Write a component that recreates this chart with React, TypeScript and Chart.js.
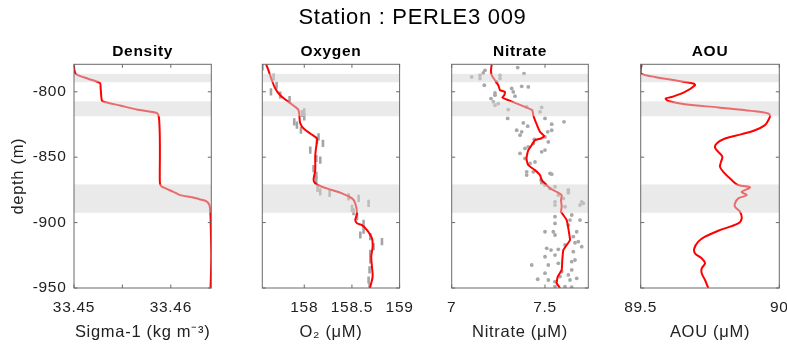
import React, { useEffect, useRef } from "react";
import { Chart, registerables } from "chart.js";

Chart.register(...registerables);

const FONT_FAMILY = "'Liberation Sans', Arial, Helvetica, sans-serif";
const TEXT_COLOR = "#222222";
const WIDTH = 787;
const HEIGHT = 349;

const heading = "Station : PERLE3 009";

// depth axis (m, negative downward)
const depthTicks = [-800, -850, -900, -950];
const depthMin = -950;
const depthMax = -779;

// shaded layers
const bandTop = [-786.3, -807.4, -870.8];
const bandBottom = [-792.7, -818.7, -892.5];

// ---- Density (sigma-1) profile ----
const densityDepth = [
  -779, -783, -786.6, -790, -793.3, -797, -802, -807, -808.2, -810.5, -813.6, -816.2, -818, -822,
  -830, -840, -850, -860, -868, -870.8, -872.6, -876.5, -879, -880.7, -882.3, -883.6, -886.6,
  -890.4, -895, -905, -915, -925, -935, -945, -950,
];
const densityValue = [
  33.45, 33.45003, 33.45021, 33.45145, 33.45269, 33.45275, 33.4528, 33.4529, 33.45338, 33.45476,
  33.45648, 33.45855, 33.45872, 33.4588, 33.45885, 33.45887, 33.45887, 33.45886, 33.45886, 33.4589,
  33.45907, 33.46027, 33.46096, 33.46217, 33.46303, 33.46365, 33.46399, 33.46406, 33.4641,
  33.46413, 33.46416, 33.46418, 33.46416, 33.46412, 33.4641,
];
const densityTicks = [33.45, 33.455, 33.46];
const densityTickLabels = ["33.45", "", "33.46"];

// ---- Oxygen profile ----
const oxygenDepth = [
  -779, -783.6, -789.9, -797.5, -802.6, -807.7, -811.6, -814.1, -820.4, -824.2, -828.1, -831.9,
  -835.7, -838.3, -843.3, -849.7, -859.9, -867.5, -870.0, -872.6, -875.1, -877.7, -881.5, -885.3,
  -892.9, -898.1, -900.5, -901.9, -905.7, -912.0, -918.4, -926.1, -933.7, -941.3, -948.9, -950,
];
const oxygenValue = [
  157.6, 157.625, 157.654, 157.696, 157.748, 157.835, 157.906, 157.94, 157.951, 157.958, 157.993,
  158.063, 158.133, 158.133, 158.123, 158.115, 158.115, 158.098, 158.115, 158.186, 158.291,
  158.396, 158.501, 158.535, 158.553, 158.535, 158.553, 158.605, 158.658, 158.71, 158.717,
  158.703, 158.71, 158.717, 158.693, 158.69,
];
const oxygenSampleDepth = [
  -781.0, -788.7, -795.0, -800.1, -802.6, -805.9, -815.4, -816.6, -819.2, -823.0, -825.5, -829.4,
  -834.5, -837.0, -839.5, -844.6, -851.0, -852.3, -858.7, -863.7, -867.5, -873.9, -876.5, -877.7,
  -880.3, -881.5, -885.3, -889.1, -891.7, -895.5, -900.6, -905.7, -909.5, -910.8, -914.6, -918.4,
  -923.5, -928.6, -936.2, -943.9, -948.9,
];
const oxygenSampleValue = [
  157.562, 157.678, 157.71, 157.651, 157.748, 157.846, 158.0, 157.976, 158.0, 157.895, 157.923,
  157.965, 158.15, 158.133, 158.196, 158.063, 158.126, 158.168, 158.098, 158.126, 158.126,
  158.14, 158.168, 158.266, 158.465, 158.57, 158.675, 158.501, 158.517, 158.553, 158.622,
  158.622, 158.588, 158.693, 158.815, 158.727, 158.693, 158.693, 158.685, 158.675, 158.685,
];
const oxygenTicks = [158, 158.5, 159];
const oxygenTickLabels = ["158", "158.5", "159"];

// ---- Nitrate profile ----
const nitrateDepth = [
  -779, -783.6, -787.4, -791.2, -795.0, -798.8, -800.1, -802.6, -804.4, -805.9, -808.5, -811.6,
  -814.1, -817.9, -821.7, -826.8, -830.6, -833.9, -835.7, -837.0, -840.8, -844.6, -849.7, -852.3,
  -856.1, -859.9, -863.7, -867.5, -871.4, -873.9, -876.5, -879.0, -882.8, -887.9, -891.7, -894.2,
  -898.1, -904.4, -913.3, -917.1, -921.0, -928.6, -936.2, -941.3, -946.4, -950,
];
const nitrateValue = [
  7.2144, 7.2106, 7.2144, 7.232, 7.2497, 7.2588, 7.2856, 7.2819, 7.2712, 7.2947, 7.3392, 7.3928,
  7.4319, 7.4373, 7.4464, 7.4609, 7.4732, 7.4962, 7.4786, 7.4464, 7.4287, 7.4105, 7.4019, 7.4019,
  7.4105, 7.4464, 7.4732, 7.4823, 7.5091, 7.5268, 7.5627, 7.5895, 7.5857, 7.5895, 7.5857, 7.5981,
  7.6163, 7.6249, 7.634, 7.6163, 7.5981, 7.5927, 7.5895, 7.5681, 7.5627, 7.5804,
];
const nitrateSampleDepth = [
  -781.5, -783.6, -785.6, -786.1, -787.4, -787.4, -788.7, -789.9, -789.9, -792.5, -795.0, -795.8,
  -796.3, -797.5, -800.1, -800.9, -802.6, -803.4, -805.2, -807.7, -809.0, -810.3, -811.6, -812.0,
  -813.6, -815.4, -820.4, -820.4, -823.0, -823.8, -824.8, -826.3, -829.4, -829.4, -830.6, -830.6,
  -833.2, -834.5, -836.5, -838.3, -839.5, -842.1, -843.3, -844.6, -845.9, -847.1, -851.0, -853.6,
  -854.8, -861.2, -861.2, -862.4, -863.0, -863.7, -867.5, -869.6, -871.4, -872.6, -873.9, -875.1,
  -877.2, -879.0, -881.5, -884.1, -884.1, -885.3, -886.6, -886.6, -887.9, -894.2, -895.5, -898.1,
  -898.1, -900.6, -901.9, -907.0, -907.0, -907.0, -909.5, -910.8, -914.6, -915.4, -917.1, -918.4,
  -919.7, -920.4, -921.0, -922.2, -924.8, -926.1, -928.6, -929.9, -931.1, -932.4, -932.4, -936.2,
  -937.5, -938.7, -940.0, -941.3, -942.6, -943.3, -943.9, -943.9, -945.2, -948.9, -948.9, -949.4,
];
const nitrateSampleValue = [
  7.3537, 7.1785, 7.1693, 7.3875, 7.1517, 7.2588, 7.1072, 7.1517, 7.2588, 7.2412, 7.1747, 7.3751,
  7.4105, 7.3215, 7.3301, 7.232, 7.232, 7.3392, 7.2106, 7.2229, 7.2497, 7.232, 7.4019, 7.4823,
  7.3033, 7.4732, 7.5, 7.3001, 7.6018, 7.3837, 7.5359, 7.4073, 7.3483, 7.5359, 7.3751, 7.5145,
  7.366, 7.5, 7.4427, 7.5177, 7.4373, 7.4105, 7.3928, 7.5, 7.4823, 7.366, 7.3928, 7.4464,
  7.4196, 7.4019, 7.4373, 7.5268, 7.5359, 7.4019, 7.4786, 7.4823, 7.5, 7.5536, 7.5268, 7.6249,
  7.6249, 7.5713, 7.5981, 7.5536, 7.6967, 7.7053, 7.5536, 7.6876, 7.6072, 7.6431, 7.5536, 7.634,
  7.6876, 7.5536, 7.6249, 7.5, 7.5445, 7.6699, 7.5536, 7.6517, 7.6785, 7.6608, 7.6072, 7.6967,
  7.5091, 7.5713, 7.5322, 7.6517, 7.5536, 7.5, 7.6608, 7.6431, 7.5713, 7.4287, 7.5177, 7.6431,
  7.5895, 7.5, 7.6249, 7.5804, 7.6699, 7.4609, 7.5177, 7.634, 7.5536, 7.5536, 7.6072, 7.6431,
];
const nitrateTicks = [7, 7.5];
const nitrateTickLabels = ["7", "7.5"];

// ---- AOU profile ----
const aouDepth = [
  -779, -783.6, -786.1, -788.7, -791.2, -793.7, -795.0, -800.1, -804.0, -805.2, -807.0, -809.5,
  -812.0, -814.6, -816.6, -818.7, -821.7, -825.5, -829.4, -832.4, -835.7, -839.5, -842.6, -845.9,
  -849.7, -853.6, -857.4, -861.2, -867.5, -871.4, -873.1, -876.5, -879.0, -881.5, -885.3, -887.9,
  -891.7, -896.8, -900.6, -906.2, -910.8, -914.6, -919.7, -923.5, -927.3, -931.1, -935.0, -938.7,
  -943.9, -950,
];
const aouValue = [
  89.5036, 89.5, 89.501, 89.5516, 89.6237, 89.6898, 89.6959, 89.6598, 89.6118, 89.5902, 89.5996,
  89.6598, 89.7799, 89.9004, 89.9603, 89.9665, 89.9603, 89.9484, 89.9123, 89.8644, 89.8041,
  89.7742, 89.768, 89.7799, 89.7944, 89.7897, 89.7861, 89.798, 89.8283, 89.8521, 89.8943, 89.8644,
  89.8824, 89.8521, 89.8402, 89.8402, 89.8582, 89.8644, 89.8521, 89.7799, 89.732, 89.7078,
  89.6934, 89.6959, 89.7201, 89.732, 89.7201, 89.7201, 89.732, 89.7439,
];
const aouTicks = [89.5, 90];
const aouTickLabels = ["89.5", "90"];

type Panel = {
  title: string;
  xLabel: string;
  xMin: number;
  xMax: number;
  xTicks: number[];
  xTickLabels: string[];
  plotLeft: number;
  plotRight: number;
  depth: number[];
  value: number[];
  tension: number;
  sampleDepth?: number[];
  sampleValue?: number[];
  sampleStyle?: "dash" | "dot";
};

const panels: Panel[] = [
  {
    title: "Density",
    xLabel: "Sigma-1 (kg m\u207B\u00B3)",
    xMin: 33.45,
    xMax: 33.46418,
    xTicks: densityTicks,
    xTickLabels: densityTickLabels,
    plotLeft: 74,
    plotRight: 211.3,
    depth: densityDepth,
    value: densityValue,
    tension: 0.2,
  },
  {
    title: "Oxygen",
    xLabel: "O\u2082 (\u03BCM)",
    xMin: 157.56,
    xMax: 159,
    xTicks: oxygenTicks,
    xTickLabels: oxygenTickLabels,
    plotLeft: 262.3,
    plotRight: 399.6,
    depth: oxygenDepth,
    value: oxygenValue,
    tension: 0.35,
    sampleDepth: oxygenSampleDepth,
    sampleValue: oxygenSampleValue,
    sampleStyle: "dash",
  },
  {
    title: "Nitrate",
    xLabel: "Nitrate (\u03BCM)",
    xMin: 7,
    xMax: 7.732,
    xTicks: nitrateTicks,
    xTickLabels: nitrateTickLabels,
    plotLeft: 451.7,
    plotRight: 588.3,
    depth: nitrateDepth,
    value: nitrateValue,
    tension: 0.1,
    sampleDepth: nitrateSampleDepth,
    sampleValue: nitrateSampleValue,
    sampleStyle: "dot",
  },
  {
    title: "AOU",
    xLabel: "AOU (\u03BCM)",
    xMin: 89.5,
    xMax: 90,
    xTicks: aouTicks,
    xTickLabels: aouTickLabels,
    plotLeft: 640.7,
    plotRight: 779.3,
    depth: aouDepth,
    value: aouValue,
    tension: 0.35,
  },
];

const PLOT_TOP = 64.3;
const PLOT_BOTTOM = 288;
const TICK_LEN = 3.5;
const LETTER_SPACING = "0.7px";

function buildChart(canvas: HTMLCanvasElement, p: Panel, first: boolean): Chart {
  const datasets: any[] = [
    {
      data: p.depth.map((d, i) => ({ x: p.value[i], y: d })),
      showLine: true,
      borderColor: "#ff0000",
      borderWidth: 2,
      pointRadius: 0,
      tension: p.tension,
      fill: false,
      order: 0,
    },
  ];
  if (p.sampleDepth && p.sampleValue) {
    const sv = p.sampleValue;
    const dash = p.sampleStyle === "dash";
    datasets.push({
      data: p.sampleDepth.map((d, i) => ({ x: sv[i], y: d })),
      showLine: false,
      pointStyle: dash ? "line" : "circle",
      rotation: dash ? 90 : 0,
      pointRadius: dash ? 3.6 : 1.9,
      borderWidth: dash ? 2.6 : 0,
      borderColor: "#a4a4a4",
      backgroundColor: "#a8a8a8",
      order: 1,
    });
  }

  const framePlugin = {
    id: "panelFrame",
    beforeDraw(chart: any) {
      chart.ctx.letterSpacing = LETTER_SPACING;
    },
    afterDatasetsDraw(chart: any) {
      const { ctx, chartArea } = chart;
      const { left, right, top, bottom } = chartArea;
      const xs = chart.scales.x;
      const ys = chart.scales.y;
      ctx.save();
      ctx.fillStyle = "rgba(214,214,214,0.5)";
      bandTop.forEach((t, i) => {
        const y1 = ys.getPixelForValue(t);
        const y2 = ys.getPixelForValue(bandBottom[i]);
        ctx.fillRect(left, y1, right - left, y2 - y1);
      });
      ctx.strokeStyle = "#6a6a6a";
      ctx.lineWidth = 1;
      ctx.strokeRect(left, top, right - left, bottom - top);
      ctx.beginPath();
      for (const v of p.xTicks) {
        const px = xs.getPixelForValue(v);
        ctx.moveTo(px, bottom);
        ctx.lineTo(px, bottom - TICK_LEN);
        ctx.moveTo(px, top);
        ctx.lineTo(px, top + TICK_LEN);
      }
      for (const v of depthTicks) {
        const py = ys.getPixelForValue(v);
        ctx.moveTo(left, py);
        ctx.lineTo(left + TICK_LEN, py);
        ctx.moveTo(right, py);
        ctx.lineTo(right - TICK_LEN, py);
      }
      ctx.stroke();
      ctx.restore();
    },
    afterDraw(chart: any) {
      if (!first) return;
      const ctx = chart.ctx;
      ctx.save();
      ctx.letterSpacing = LETTER_SPACING;
      ctx.font = `22px ${FONT_FAMILY}`;
      ctx.fillStyle = "#000";
      ctx.textAlign = "center";
      ctx.textBaseline = "middle";
      ctx.fillText(heading, 412.5, 18);
      ctx.restore();
    },
  };

  return new Chart(canvas, {
    type: "scatter",
    data: { datasets },
    options: {
      responsive: false,
      animation: false,
      events: [],
      layout: {
        autoPadding: false,
        padding: {
          left: first ? 0 : p.plotLeft,
          right: WIDTH - p.plotRight,
          top: 0,
          bottom: 0,
        },
      },
      plugins: {
        legend: { display: false },
        tooltip: { enabled: false },
        title: {
          display: true,
          text: p.title,
          fullSize: false,
          color: "#000",
          font: { family: FONT_FAMILY, size: 15.5, weight: "bold" },
          padding: { top: 42.5, bottom: PLOT_TOP - 42.5 - 18.6 },
        },
      },
      scales: {
        x: {
          type: "linear",
          position: "bottom",
          min: p.xMin,
          max: p.xMax,
          afterBuildTicks: (s: any) => {
            s.ticks = p.xTicks.map((v) => ({ value: v }));
          },
          afterFit: (s: any) => {
            s.height = HEIGHT - PLOT_BOTTOM;
            s.paddingLeft = 0;
            s.paddingRight = 0;
          },
          ticks: {
            autoSkip: false,
            maxRotation: 0,
            padding: 10,
            color: TEXT_COLOR,
            font: { family: FONT_FAMILY, size: 15.5 },
            callback: (_v: any, i: number) => p.xTickLabels[i],
          },
          grid: { display: false, drawTicks: false },
          border: { display: false },
          title: {
            display: true,
            text: p.xLabel,
            color: TEXT_COLOR,
            font: { family: FONT_FAMILY, size: 16.5 },
            padding: { top: 0, bottom: 6.5 },
          },
        },
        y: {
          type: "linear",
          display: first,
          min: depthMin,
          max: depthMax,
          afterBuildTicks: (s: any) => {
            s.ticks = depthTicks.map((v) => ({ value: v }));
          },
          afterFit: (s: any) => {
            s.width = first ? p.plotLeft : 0;
            s.paddingTop = 0;
            s.paddingBottom = 0;
          },
          ticks: {
            autoSkip: false,
            padding: 7.5,
            color: TEXT_COLOR,
            font: { family: FONT_FAMILY, size: 15.5 },
            callback: (v: any) => String(v),
          },
          grid: { display: false, drawTicks: false },
          border: { display: false },
          title: {
            display: true,
            text: "depth (m)",
            color: TEXT_COLOR,
            font: { family: FONT_FAMILY, size: 16.5 },
            padding: { top: 8.5, bottom: 0 },
          },
        },
      },
    } as any,
    plugins: [framePlugin],
  });
}

export default function App() {
  const refs = useRef<(HTMLCanvasElement | null)[]>([]);

  useEffect(() => {
    const charts: Chart[] = [];
    panels.forEach((p, i) => {
      const c = refs.current[i];
      if (c) charts.push(buildChart(c, p, i === 0));
    });
    return () => charts.forEach((c) => c.destroy());
  }, []);

  return (
    <div
      style={{
        position: "absolute",
        left: 0,
        top: 0,
        width: WIDTH,
        height: HEIGHT,
        background: "#fff",
      }}
    >
      {panels.map((p, i) => (
        <canvas
          key={p.title}
          ref={(el) => {
            refs.current[i] = el;
          }}
          width={WIDTH}
          height={HEIGHT}
          style={{ position: "absolute", left: 0, top: 0, width: WIDTH, height: HEIGHT }}
        />
      ))}
    </div>
  );
}
